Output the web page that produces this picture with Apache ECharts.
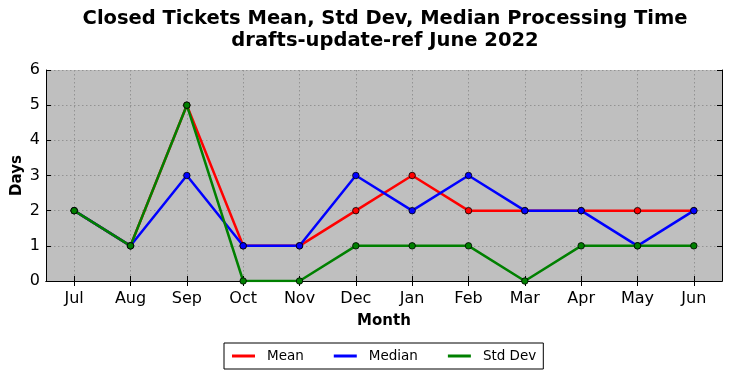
<!DOCTYPE html>
<html><head><meta charset="utf-8">
<script src="https://cdn.jsdelivr.net/npm/echarts@6/dist/echarts.min.js"></script>
<style>html,body{margin:0;padding:0;background:#fff}#c{width:732px;height:378px}</style>
</head><body><div id="c"></div>
<script>
const months = ['Jul','Aug','Sep','Oct','Nov','Dec','Jan','Feb','Mar','Apr','May','Jun'];
const meanDays = [2,1,5,1,1,2,3,2,2,2,2,2];
const medianDays = [2,1,3,1,1,3,2,3,2,2,1,2];
const stdDevDays = [2,1,5,0,0,1,1,1,0,1,1,1];
const yTicks = [0,1,2,3,4,5,6];

const FONT = 'DejaVu Sans';
const chart = echarts.init(document.getElementById('c'));
const gridLine = {show:true, lineStyle:{color:'#929292', width:1, type:[1.5,2.5]}};
function mkSeries(name, data, color){
  return {name, type:'line', data, xAxisIndex:0, yAxisIndex:0,
    symbol:'circle', symbolSize:6.5, showSymbol:true,
    lineStyle:{color, width:2.5},
    itemStyle:{color, borderColor:'#000', borderWidth:0.8},
    emphasis:{disabled:true}, animation:false};
}
chart.setOption({
  animation:false,
  title:{text:'Closed Tickets Mean, Std Dev, Median Processing Time\ndrafts-update-ref June 2022',
    left:385, top:8, textAlign:'center', padding:0,
    textStyle:{fontFamily:FONT, fontSize:19.5, fontWeight:'bold', color:'#000', lineHeight:22}},
  grid:{left:46, right:10, top:70, bottom:97, show:true, backgroundColor:'#bfbfbf', borderWidth:0,
    containLabel:false, outerBoundsMode:'none'},
  legend:{left:224, top:343, padding:[6,7,6,8], itemGap:30, itemWidth:23, itemHeight:3,
    borderColor:'#000', borderWidth:1, borderRadius:0, icon:'rect',
    itemStyle:{borderWidth:0},
    textStyle:{fontFamily:FONT, fontSize:13.5, color:'#000', padding:[0,0,0,7]},
    data:['Mean','Median','Std Dev']},
  xAxis:[{type:'category', data:months, boundaryGap:true, position:'bottom',
    name:'Month', nameLocation:'middle', nameGap:33,
    nameTextStyle:{fontFamily:FONT, fontSize:15, fontWeight:'bold', color:'#000'},
    axisLine:{show:true, lineStyle:{color:'#000', width:1}},
    axisTick:{show:true, inside:true, length:5, alignWithLabel:true, lineStyle:{color:'#000'}},
    axisLabel:{fontFamily:FONT, fontSize:16, color:'#000', margin:10},
    splitLine:Object.assign({alignWithLabel:true}, gridLine)},
   {type:'category', data:months, boundaryGap:true, position:'top',
    axisLine:{show:true, lineStyle:{color:'#000', width:1}},
    axisTick:{show:true, inside:true, length:5, alignWithLabel:true, lineStyle:{color:'#000'}},
    axisLabel:{show:false}, splitLine:{show:false}}],
  yAxis:[{type:'value', min:yTicks[0], max:yTicks[yTicks.length-1], interval:1, position:'left',
    name:'Days', nameLocation:'middle', nameGap:21, nameRotate:90, nameMoveOverlap:false,
    nameTextStyle:{fontFamily:FONT, fontSize:15, fontWeight:'bold', color:'#000'},
    axisLine:{show:true, lineStyle:{color:'#000', width:1}},
    axisTick:{show:true, inside:true, length:5, lineStyle:{color:'#000'}},
    axisLabel:{fontFamily:FONT, fontSize:16, color:'#000', margin:6},
    splitLine:gridLine},
   {type:'value', min:yTicks[0], max:yTicks[yTicks.length-1], interval:1, position:'right',
    axisLine:{show:true, lineStyle:{color:'#000', width:1}},
    axisTick:{show:true, inside:true, length:5, lineStyle:{color:'#000'}},
    axisLabel:{show:false}, splitLine:{show:false}}],
  series:[mkSeries('Mean', meanDays, '#ff0000'),
          mkSeries('Median', medianDays, '#0000ff'),
          mkSeries('Std Dev', stdDevDays, '#008000')]
});
</script></body></html>
